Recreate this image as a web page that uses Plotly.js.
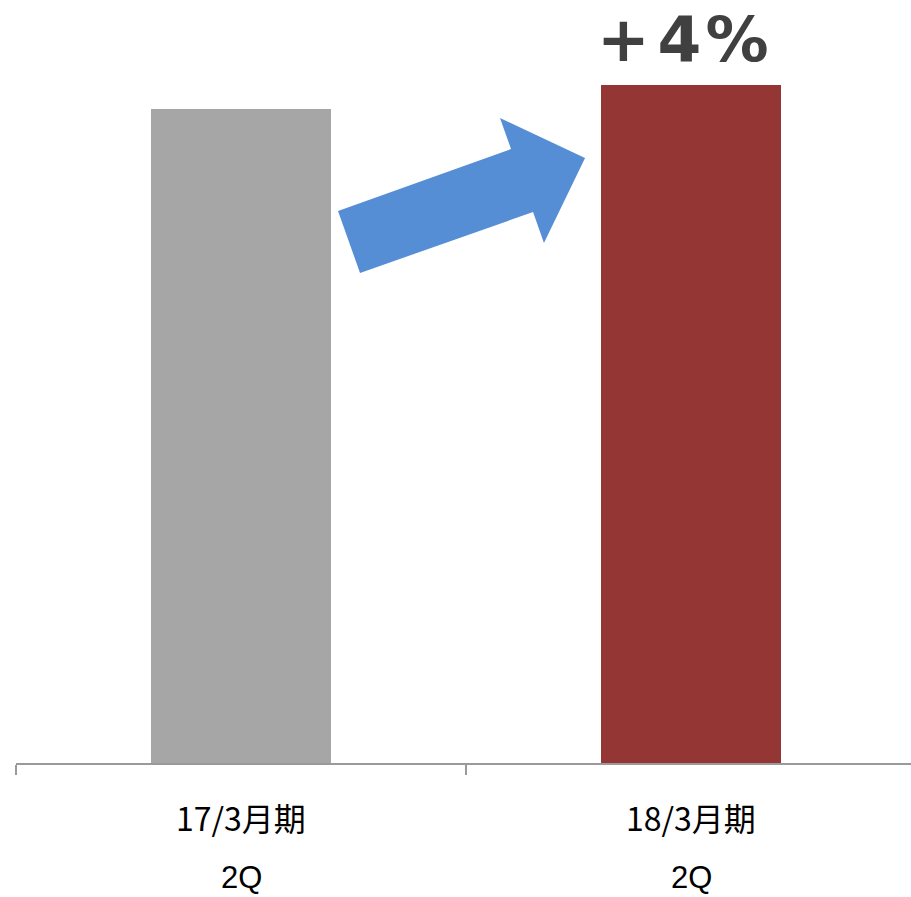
<!DOCTYPE html>
<html>
<head>
<meta charset="utf-8">
<script src="https://cdn.plot.ly/plotly-3.0.1.min.js"></script>
<style>html,body{margin:0;padding:0;background:#fff;}#chart{width:911px;height:897px;}</style>
</head>
<body>
<div id="chart"></div>
<script>
// Data
const categories = ['17/3月期', '18/3月期'];
const subLabels = ['2Q', '2Q'];
const values = [100, 103.67];
const barColors = ['#A6A6A6', '#943634'];
const changeParts = ['+', '4', '%'];

// Layout geometry
const W = 911, H = 897;
const mL = 16, mR = 0, mT = 0, mB = 134;
const plotW = W - mL - mR, plotH = H - mT - mB;
const unitPx = 450;
const yMax = 116.67;

// Decorative arrow outline in pixel space, converted to paper coords
const arrowPx = [[360,273],[338,211],[511,149],[500,118],[585,158],[544,243],[533,212]];
function toPaper(p){ return [(p[0]-mL)/plotW, (H-mB-p[1])/plotH]; }
const arrowPath = arrowPx.map((p,i)=>{const q=toPaper(p);return (i?'L':'M')+q[0].toFixed(4)+','+q[1].toFixed(4);}).join(' ')+' Z';

const trace = {
  type: 'bar',
  x: categories,
  y: values,
  width: 0.4,
  marker: {color: barColors, line: {width: 0}},
  hoverinfo: 'none'
};

const labelFont = {family: 'Noto Sans CJK JP', size: 32, color: '#000'};
const subFont = {family: 'Liberation Sans, Noto Sans CJK JP', size: 31, color: '#000'};
const annotations = [];
categories.forEach((c, i) => {
  annotations.push({x: c, xref: 'x', y: 0, yref: 'paper', yanchor: 'middle', yshift: -54,
    text: c, showarrow: false, font: labelFont});
  annotations.push({x: c, xref: 'x', y: 0, yref: 'paper', yanchor: 'middle', yshift: -114,
    text: subLabels[i], showarrow: false, font: subFont});
});
const changeText = '<b>' + changeParts[0] + "<span style='font-size:22px'> </span>" + changeParts[1] +
  "<span style='font-size:12px'> </span>" + changeParts[2] + '</b>';
annotations.push({x: categories[1], xref: 'x', xshift: -8, y: 1, yref: 'paper', yanchor: 'middle', yshift: -39,
  text: changeText, showarrow: false,
  font: {family: 'DejaVu Sans', size: 63, color: '#404040'}});

const layout = {
  width: W, height: H,
  margin: {l: mL, r: mR, t: mT, b: mB, pad: 0},
  paper_bgcolor: '#fff', plot_bgcolor: '#fff',
  showlegend: false,
  xaxis: {
    type: 'category',
    range: [-0.5, plotW/unitPx - 0.5],
    showline: true, linecolor: '#9A9A9A', linewidth: 2,
    ticks: 'outside', tickson: 'boundaries', ticklen: 10, tickwidth: 2, tickcolor: '#9A9A9A',
    showticklabels: false, showgrid: false, zeroline: false, fixedrange: true
  },
  yaxis: {
    range: [0, yMax], visible: false, showgrid: false, zeroline: false, fixedrange: true
  },
  shapes: [{type: 'path', xref: 'paper', yref: 'paper', path: arrowPath,
    fillcolor: '#558ED5', line: {width: 0}, layer: 'above'}],
  annotations: annotations
};

Plotly.newPlot('chart', [trace], layout, {displayModeBar: false, staticPlot: true});
</script>
</body>
</html>
